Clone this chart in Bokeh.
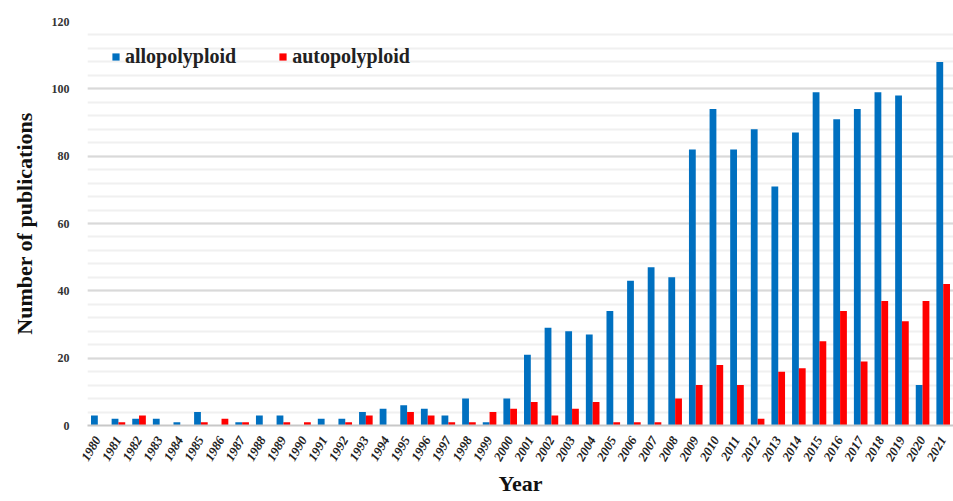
from bokeh.plotting import figure
from bokeh.models import ColumnDataSource, FactorRange, Range1d, SingleIntervalTicker, Legend, LegendItem
from bokeh.transform import dodge
from bokeh.embed import file_html
from bokeh.resources import INLINE
import math

years = [str(y) for y in range(1980, 2022)]
allopolyploid = [3, 2, 2, 2, 1, 4, 0, 1, 3, 3, 0, 2, 2, 4, 5, 6, 5, 3, 8, 1, 8,
                 21, 29, 28, 27, 34, 43, 47, 44, 82, 94, 82, 88, 71, 87, 99, 91, 94, 99, 98, 12, 108]
autopolyploid = [0, 1, 3, 0, 0, 1, 2, 1, 0, 1, 1, 0, 1, 3, 0, 4, 3, 1, 1, 4, 5,
                 7, 3, 5, 7, 1, 1, 1, 8, 12, 18, 12, 2, 16, 17, 25, 34, 19, 37, 31, 37, 42]

src = ColumnDataSource(dict(year=years, allo=allopolyploid, auto=autopolyploid))

FONT = "Liberation Serif"

p = figure(x_range=FactorRange(factors=years, range_padding=0),
           y_range=Range1d(0, 120),
           width=953, height=501, output_backend="svg", toolbar_location=None,
           min_border_left=87, min_border_right=0, min_border_top=21, min_border_bottom=76)
p.outline_line_color = None

r1 = p.vbar(x=dodge('year', -0.165, range=p.x_range), top='allo', width=0.33,
            source=src, color="#0070C0", line_color=None)
r2 = p.vbar(x=dodge('year', 0.165, range=p.x_range), top='auto', width=0.33,
            source=src, color="#FF0000", line_color=None)

legend = Legend(items=[LegendItem(label="allopolyploid", renderers=[r1]),
                       LegendItem(label="autopolyploid", renderers=[r2])],
                orientation="horizontal", location=(24, 357))
legend.background_fill_alpha = 0
legend.border_line_color = None
legend.label_text_font = FONT
legend.label_text_font_style = "bold"
legend.label_text_font_size = "20px"
legend.label_text_color = "#222222"
legend.glyph_width = 9
legend.glyph_height = 9
legend.spacing = 42
legend.padding = 0
legend.margin = 0
legend.label_standoff = 5
p.add_layout(legend)

p.yaxis.ticker = SingleIntervalTicker(interval=20, num_minor_ticks=5)
p.ygrid.grid_line_color = "#d9d9d9"
p.ygrid.grid_line_width = 2
p.ygrid.minor_grid_line_color = "#f0f0f0"
p.ygrid.minor_grid_line_width = 2
p.xgrid.grid_line_color = None

p.yaxis.axis_line_color = None
p.yaxis.major_tick_line_color = None
p.yaxis.minor_tick_line_color = None
p.yaxis.major_label_text_font = FONT
p.yaxis.major_label_text_font_style = "bold"
p.yaxis.major_label_text_font_size = "12px"
p.yaxis.major_label_text_color = "#333333"
p.yaxis.major_label_standoff = 12
p.yaxis.axis_label = "Number of publications"
p.yaxis.axis_label_text_font = FONT
p.yaxis.axis_label_text_font_style = "bold"
p.yaxis.axis_label_text_font_size = "22px"
p.yaxis.axis_label_text_color = "#111111"
p.yaxis.axis_label_standoff = 12

p.xaxis.axis_line_color = "#c8c8c8"
p.xaxis.axis_line_width = 2
p.xaxis.major_tick_line_color = None
p.xaxis.minor_tick_line_color = None
p.xaxis.major_label_orientation = math.radians(60)
p.xaxis.major_label_text_font = FONT
p.xaxis.major_label_text_font_style = "bold italic"
p.xaxis.major_label_text_font_size = "13px"
p.xaxis.major_label_text_color = "#222222"
p.xaxis.major_label_standoff = 6
p.xaxis.axis_label = "Year"
p.xaxis.axis_label_text_font = FONT
p.xaxis.axis_label_text_font_style = "bold"
p.xaxis.axis_label_text_font_size = "22px"
p.xaxis.axis_label_text_color = "#111111"
p.xaxis.axis_label_standoff = 4

open("out.html", "w").write(file_html(p, INLINE))
